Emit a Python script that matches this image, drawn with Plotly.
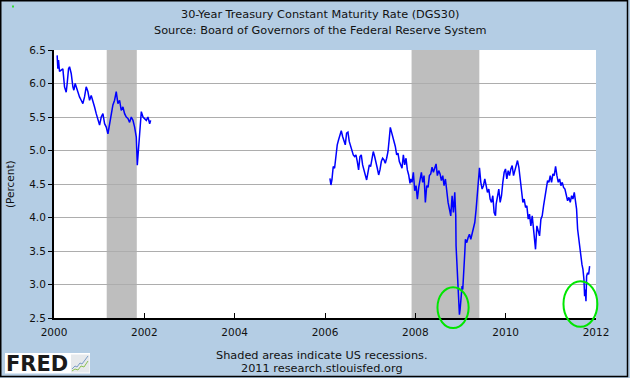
import plotly.graph_objects as go

# ---------------- data ----------------
# 30-year Treasury constant maturity rate, decimal years
years_2000 = [2000.070, 2000.085, 2000.100, 2000.122, 2000.159, 2000.196, 2000.233, 2000.270,
              2000.292, 2000.322, 2000.344, 2000.381, 2000.418, 2000.440, 2000.469, 2000.492,
              2000.528, 2000.565, 2000.602, 2000.639, 2000.676, 2000.713, 2000.750, 2000.787,
              2000.824, 2000.861, 2000.898, 2000.935, 2000.972, 2001.009, 2001.046, 2001.083,
              2001.120, 2001.157, 2001.194, 2001.231, 2001.268, 2001.304, 2001.341, 2001.378,
              2001.415, 2001.452, 2001.489, 2001.526, 2001.563, 2001.600, 2001.637, 2001.674,
              2001.711, 2001.748, 2001.785, 2001.822, 2001.844, 2001.859, 2001.881, 2001.903,
              2001.933, 2001.970, 2002.007, 2002.044, 2002.080, 2002.118, 2002.140]
rate_2000 = [6.42, 6.22, 6.35, 6.18, 6.20, 6.22, 5.95, 5.87,
             6.00, 6.22, 6.25, 6.15, 5.95, 5.90, 6.00, 5.95,
             5.85, 5.80, 5.75, 5.70, 5.80, 5.95, 5.88, 5.75,
             5.82, 5.75, 5.65, 5.55, 5.45, 5.38, 5.50, 5.55,
             5.40, 5.35, 5.25, 5.40, 5.60, 5.68, 5.75, 5.88,
             5.70, 5.75, 5.60, 5.65, 5.55, 5.50, 5.48, 5.42,
             5.50, 5.45, 5.35, 5.20, 4.78, 4.90, 5.10, 5.30,
             5.58, 5.50, 5.48, 5.45, 5.50, 5.40, 5.45]

years_2006 = [2006.109, 2006.131, 2006.153, 2006.182, 2006.212, 2006.242, 2006.271, 2006.301,
              2006.330, 2006.360, 2006.390, 2006.419, 2006.449, 2006.478, 2006.508, 2006.537,
              2006.567, 2006.596, 2006.626, 2006.656, 2006.685, 2006.715, 2006.744, 2006.774,
              2006.803, 2006.833, 2006.863, 2006.892, 2006.922, 2006.951, 2006.981, 2007.010,
              2007.040, 2007.069, 2007.099, 2007.129, 2007.158, 2007.188, 2007.217, 2007.247,
              2007.276, 2007.306, 2007.335, 2007.365, 2007.395, 2007.424, 2007.446, 2007.469,
              2007.498, 2007.528, 2007.557, 2007.587, 2007.616, 2007.646, 2007.676, 2007.705,
              2007.735, 2007.764, 2007.794, 2007.823, 2007.853, 2007.882]
rate_2006 = [4.585, 4.485, 4.56, 4.76, 4.735, 4.935, 5.085, 5.16,
             5.235, 5.295, 5.21, 5.135, 5.085, 5.26, 5.275, 5.135,
             5.06, 5.01, 4.935, 4.91, 4.935, 4.835, 4.71, 4.91,
             4.935, 4.785, 4.685, 4.635, 4.56, 4.66, 4.785, 4.76,
             4.885, 4.985, 4.91, 4.835, 4.735, 4.635, 4.71, 4.835,
             4.885, 4.86, 4.81, 4.885, 4.985, 5.185, 5.345, 5.285,
             5.185, 5.135, 5.06, 4.935, 4.96, 4.835, 4.785, 4.735,
             4.935, 4.785, 4.885, 4.71, 4.635, 4.51]

years_2008 = [2007.897, 2007.927, 2007.956, 2007.986, 2008.016, 2008.045, 2008.075, 2008.104,
              2008.134, 2008.163, 2008.193, 2008.222, 2008.252, 2008.282, 2008.311, 2008.341,
              2008.370, 2008.400, 2008.430, 2008.459, 2008.488, 2008.518, 2008.548, 2008.577,
              2008.607, 2008.636, 2008.666, 2008.696, 2008.725, 2008.755, 2008.784, 2008.814,
              2008.843, 2008.873, 2008.895, 2008.902, 2008.925, 2008.947, 2008.962, 2008.976,
              2008.991, 2009.013, 2009.035, 2009.050, 2009.072, 2009.095, 2009.109, 2009.139,
              2009.169, 2009.198, 2009.228, 2009.257, 2009.287, 2009.316, 2009.346, 2009.375,
              2009.397, 2009.420, 2009.450, 2009.479, 2009.508, 2009.538, 2009.568, 2009.597,
              2009.627, 2009.656, 2009.686, 2009.715, 2009.745, 2009.775]
rate_2008 = [4.575, 4.525, 4.675, 4.40, 4.475, 4.275, 4.45, 4.575,
             4.675, 4.525, 4.625, 4.225, 4.475, 4.45, 4.625, 4.65,
             4.75, 4.675, 4.75, 4.80, 4.625, 4.70, 4.65, 4.55,
             4.625, 4.475, 4.575, 4.375, 4.225, 4.125, 4.025, 4.325,
             4.075, 4.375, 4.025, 3.575, 3.175, 2.875, 2.675, 2.55,
             2.625, 2.775, 2.975, 2.925, 3.325, 3.475, 3.675, 3.625,
             3.70, 3.75, 3.675, 3.775, 3.825, 3.925, 4.125, 4.325,
             4.525, 4.74, 4.525, 4.425, 4.475, 4.575, 4.475, 4.375,
             4.425, 4.275, 4.225, 4.325, 4.075, 4.025]

years_2010 = [2009.789, 2009.819, 2009.848, 2009.878, 2009.908, 2009.937, 2009.967, 2009.996,
              2010.026, 2010.055, 2010.085, 2010.115, 2010.144, 2010.174, 2010.203, 2010.233,
              2010.262, 2010.292, 2010.322, 2010.351, 2010.381, 2010.410, 2010.440, 2010.469,
              2010.499, 2010.528, 2010.558, 2010.588, 2010.617, 2010.647, 2010.661, 2010.691,
              2010.721, 2010.750, 2010.780, 2010.809, 2010.839, 2010.869, 2010.898, 2010.928,
              2010.957, 2010.987, 2011.016, 2011.046, 2011.075, 2011.105, 2011.135, 2011.164,
              2011.194, 2011.223, 2011.253, 2011.282, 2011.312, 2011.341, 2011.371, 2011.401,
              2011.430, 2011.460, 2011.489, 2011.519, 2011.548, 2011.570, 2011.593, 2011.615,
              2011.637, 2011.667, 2011.689, 2011.711, 2011.733, 2011.748, 2011.763, 2011.778,
              2011.792, 2011.814, 2011.837, 2011.859]
rate_2010 = [4.20, 4.325, 4.425, 4.225, 4.325, 4.525, 4.675, 4.725,
             4.575, 4.70, 4.625, 4.725, 4.775, 4.625, 4.70, 4.75,
             4.85, 4.75, 4.575, 4.375, 4.225, 4.275, 4.15, 4.175,
             3.975, 4.05, 3.875, 4.025, 3.825, 3.675, 3.525, 3.875,
             3.775, 3.725, 3.975, 4.025, 4.175, 4.325, 4.475, 4.55,
             4.525, 4.625, 4.525, 4.65, 4.625, 4.765, 4.625, 4.525,
             4.575, 4.475, 4.525, 4.45, 4.425, 4.325, 4.25, 4.30,
             4.225, 4.325, 4.275, 4.375, 4.225, 4.125, 3.825, 3.70,
             3.55, 3.425, 3.30, 3.225, 3.075, 2.825, 2.925, 2.75,
             3.125, 3.175, 3.15, 3.275]

# US recessions (decimal years)
recession_start = [2001.167, 2007.917]
recession_end = [2001.833, 2009.417]

# highlighted lows (green ellipses), in data units
ellipse_x0 = [2008.49, 2011.28]
ellipse_x1 = [2009.18, 2012.03]
ellipse_y0 = [2.35, 2.37]
ellipse_y1 = [2.96, 3.05]

x_tick_values = [2000, 2002, 2004, 2006, 2008, 2010, 2012]
x_tick_labels = ["2000", "2002", "2004", "2006", "2008", "2010", "2012"]
y_tick_values = [2.5, 3.0, 3.5, 4.0, 4.5, 5.0, 5.5, 6.0, 6.5]
y_tick_labels = ["2.5", "3.0", "3.5", "4.0", "4.5", "5.0", "5.5", "6.0", "6.5"]

title_line1 = "30-Year Treasury Constant Maturity Rate (DGS30)"
title_line2 = "Source: Board of Governors of the Federal Reserve System"
y_title = "(Percent)"
note_line1 = "Shaded areas indicate US recessions."
note_line2 = "2011 research.stlouisfed.org"

# ---------------- layout geometry ----------------
W, H = 630, 378
L, R, T, B = 54, 34, 50, 60
PW, PH = W - L - R, H - T - B
X_RANGE = [2000, 2012]
Y_RANGE = [2.5, 6.5]
BG = "#B4CDE4"
FONT = "DejaVu Sans"


def px_x(p):
    return (p - L) / PW


def px_y(p):
    return (T + PH - p) / PH


def data_x(v):
    return (v - X_RANGE[0]) / (X_RANGE[1] - X_RANGE[0])


def data_y(v):
    return (v - Y_RANGE[0]) / (Y_RANGE[1] - Y_RANGE[0])


xs = years_2000 + [None] + years_2006 + years_2008 + years_2010
ys = rate_2000 + [None] + rate_2006 + rate_2008 + rate_2010

fig = go.Figure()
fig.add_trace(go.Scatter(x=xs, y=ys, mode="lines", connectgaps=False,
                         line=dict(color="#0000FF", width=1.5), hoverinfo="skip",
                         showlegend=False))

shapes = []
for s, e in zip(recession_start, recession_end):
    shapes.append(dict(type="rect", xref="x", yref="paper", x0=s, x1=e, y0=0, y1=1,
                       fillcolor="#BEBEBE", line=dict(width=0), layer="between"))

for x0, x1, y0, y1 in zip(ellipse_x0, ellipse_x1, ellipse_y0, ellipse_y1):
    shapes.append(dict(type="circle", xref="paper", yref="paper",
                       x0=data_x(x0), x1=data_x(x1), y0=data_y(y0), y1=data_y(y1),
                       line=dict(color="#00E600", width=2), fillcolor="rgba(0,0,0,0)",
                       layer="above"))

# outer frame
shapes.append(dict(type="rect", xref="paper", yref="paper",
                   x0=px_x(0.75), x1=px_x(627.5), y0=px_y(0.75), y1=px_y(376.5),
                   line=dict(color="#000000", width=1.5), fillcolor="rgba(0,0,0,0)",
                   layer="above"))
# small green mark top-left
shapes.append(dict(type="rect", xref="paper", yref="paper",
                   x0=px_x(12), x1=px_x(14), y0=px_y(5.5), y1=px_y(7.5),
                   line=dict(width=0), fillcolor="#33DD33", layer="above"))
# FRED logo box
shapes.append(dict(type="rect", xref="paper", yref="paper",
                   x0=px_x(5), x1=px_x(90), y0=px_y(353), y1=px_y(373.5),
                   line=dict(width=0), fillcolor="#FFFFFF", layer="above"))
shapes.append(dict(type="rect", xref="paper", yref="paper",
                   x0=px_x(71), x1=px_x(89.5), y0=px_y(354.5), y1=px_y(372.5),
                   line=dict(width=0), fillcolor="#E6E9EC", layer="above"))


def path_from(points):
    parts = []
    for i, (a, b) in enumerate(points):
        parts.append(("M" if i == 0 else "L") + f"{px_x(a):.5f},{px_y(b):.5f}")
    return " ".join(parts)


shapes.append(dict(type="path", xref="paper", yref="paper",
                   path=path_from([(72, 369), (75, 366), (77, 367), (80, 363), (82, 364),
                                   (85, 360), (88, 356)]),
                   line=dict(color="#7A9CC6", width=1), layer="above"))
shapes.append(dict(type="path", xref="paper", yref="paper",
                   path=path_from([(72, 371), (75, 369), (78, 370), (81, 366), (84, 367),
                                   (88, 361)]),
                   line=dict(color="#8CC152", width=1), layer="above"))

annotations = [
    dict(text=title_line1, x=px_x(320), y=px_y(15), xref="paper", yref="paper",
         showarrow=False, xanchor="center", yanchor="middle",
         font=dict(family=FONT, size=11.3, color="#111111")),
    dict(text=title_line2, x=px_x(320), y=px_y(30), xref="paper", yref="paper",
         showarrow=False, xanchor="center", yanchor="middle",
         font=dict(family=FONT, size=11.3, color="#111111")),
    dict(text=y_title, x=px_x(10), y=px_y(184), xref="paper", yref="paper",
         showarrow=False, xanchor="center", yanchor="middle", textangle=-90,
         font=dict(family=FONT, size=10.5, color="#111111")),
    dict(text=note_line1, x=px_x(321.5), y=px_y(355), xref="paper", yref="paper",
         showarrow=False, xanchor="center", yanchor="middle",
         font=dict(family=FONT, size=11.3, color="#111111")),
    dict(text=note_line2, x=px_x(321.5), y=px_y(368.5), xref="paper", yref="paper",
         showarrow=False, xanchor="center", yanchor="middle",
         font=dict(family=FONT, size=11.3, color="#111111")),
    dict(text="FRED", x=px_x(37), y=px_y(364), xref="paper", yref="paper",
         showarrow=False, xanchor="center", yanchor="middle",
         font=dict(family=FONT, size=21, color="#1A1A1A", weight="bold")),
]

fig.update_layout(
    width=W, height=H, autosize=False,
    margin=dict(l=L, r=R, t=T, b=B, pad=0),
    paper_bgcolor=BG, plot_bgcolor="#FFFFFF",
    shapes=shapes, annotations=annotations,
    showlegend=False,
    xaxis=dict(range=X_RANGE, tickmode="array", tickvals=x_tick_values,
               ticktext=x_tick_labels, showgrid=False, zeroline=False,
               showline=True, linecolor="#000000", linewidth=2,
               ticks="inside", ticklen=5, tickwidth=1, tickcolor="#000000",
               ticklabelstandoff=3,
               tickfont=dict(family=FONT, size=10.5, color="#111111")),
    yaxis=dict(range=Y_RANGE, tickmode="array", tickvals=y_tick_values,
               ticktext=y_tick_labels, showgrid=True, gridcolor="#ADADAD",
               gridwidth=1, zeroline=False,
               showline=True, linecolor="#000000", linewidth=2,
               ticks="outside", ticklen=4, tickwidth=1, tickcolor="#000000",
               tickfont=dict(family=FONT, size=10.5, color="#111111")),
)

fig.write_html("out.html",
               config={"displayModeBar": False, "staticPlot": True},
               post_script="document.body.style.margin='0px';"
                           "document.body.style.padding='0px';"
                           "document.body.style.overflow='hidden';")
